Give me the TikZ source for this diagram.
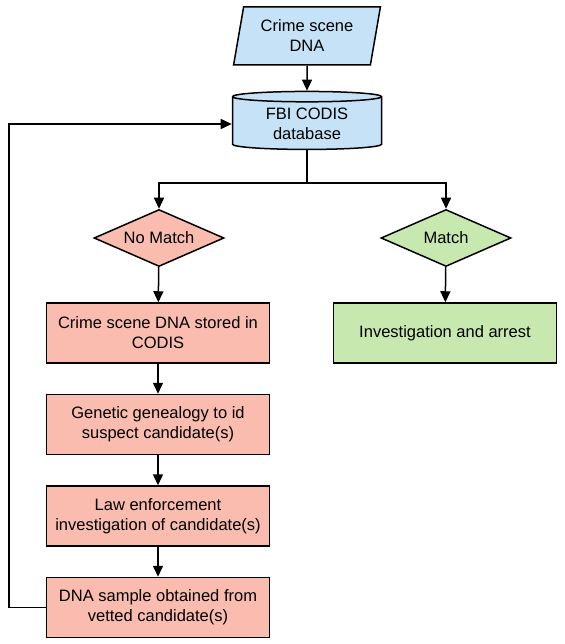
\documentclass[tikz,border=0pt]{standalone}
\usepackage{fontspec}
\setmainfont{Liberation Sans}
\usetikzlibrary{positioning}
\usetikzlibrary{shapes.geometric}
\usetikzlibrary{arrows.meta}
\definecolor{box-blue}{RGB}{198, 226, 247}
\definecolor{box-red}{RGB}{250, 188, 175}
\definecolor{box-green}{RGB}{199, 233, 175}

\begin{document}
\begin{tikzpicture}[x=1pt, y=-1pt,
        font=\fontsize{16.5}{20}\selectfont, line width=1.5pt,
        base/.style={draw=black, align=center, inner sep=2pt},
        redbox/.style={base, fill=box-red, rectangle, minimum width=223pt, minimum height=60pt},
        greenbox/.style={base, fill=box-green, rectangle, minimum width=223pt, minimum height=60pt},
        decision/.style={base, diamond, aspect=2.28, minimum width=130pt, minimum height=57pt, inner sep=0pt},
        arr/.style={-{Triangle[length=11pt, width=10pt]}}]
            \useasboundingbox (0, 0) rectangle (564, 644);
            \node[base, fill=box-blue, trapezium, trapezium left angle=78, trapezium right angle=102,
                trapezium stretches=true, minimum width=147pt, minimum height=58pt] (dna) at (307, 36) {Crime scene\\DNA};
            \node[base, fill=box-blue, cylinder, shape border rotate=90, aspect=0.12,
                minimum width=149pt, minimum height=58pt] (codis) at (307, 124) {FBI CODIS\\database};
            \node[decision, fill=box-red] (nomatch) at (159, 238) {No Match};
            \node[decision, fill=box-green] (match) at (446, 238) {Match};
            \node[redbox] (stored) at (158, 333) {Crime scene DNA stored in\\CODIS};
            \node[redbox, below=30pt of stored] (genealogy) {Genetic genealogy to id\\suspect candidate(s)};
            \node[redbox, below=30pt of genealogy] (police) {Law enforcement\\investigation of candidate(s)};
            \node[redbox, below=30pt of police] (sample) {DNA sample obtained from\\vetted candidate(s)};
            \node[greenbox] (arrest) at (445, 333) {Investigation and arrest};
            \coordinate (fork) at (307, 183);
            \coordinate (loop) at (9, 0);
            \draw[arr] (dna) -- (codis);
            \draw (codis.south) -- (fork);
            \draw[arr] (fork) -| (nomatch);
            \draw[arr] (fork) -| (match);
            \draw[arr] (nomatch) -- (stored);
            \draw[arr] (match) -- (arrest);
            \draw[arr] (stored) -- (genealogy);
            \draw[arr] (genealogy) -- (police);
            \draw[arr] (police) -- (sample);
            \draw[arr] (sample.west) -- (sample.west -| loop) |- (codis.west);
        \end{tikzpicture}
\end{document}
